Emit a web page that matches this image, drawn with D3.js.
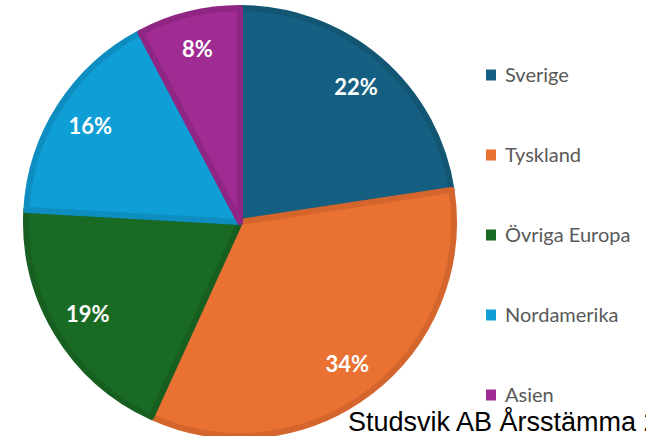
<!DOCTYPE html>
<html lang="sv">
<head>
<meta charset="UTF-8">
<title>Försäljning per region</title>
<script src="https://d3js.org/d3.v7.min.js"></script>
<style>
    body { margin: 0; background: #fff; overflow: hidden; }
    .slice-label { font-family: Lato, "Open Sans", sans-serif; font-weight: bold; fill: #fff; font-size: 22px; }
    .legend text { font-family: Lato, "Noto Sans", sans-serif; fill: #595959; font-size: 20px; }
    .footer { font-family: "Liberation Sans", Arial, sans-serif; fill: #000; font-size: 27px; }
</style>
</head>
<body>
<svg id="chart" width="646" height="436"></svg>
<script>
// data
const regions = ["Sverige", "Tyskland", "Övriga Europa", "Nordamerika", "Asien"];
const shares = [22.6, 34.2, 19.1, 16.4, 7.7];
const shareLabels = ["22%", "34%", "19%", "16%", "8%"];
const fills = ["#156082", "#e97132", "#196b24", "#0f9ed5", "#a02b93"];
const edges = ["#135674", "#d4652c", "#165f20", "#0e8dc0", "#8f2683"];

const svg = d3.select("#chart");
const cx = 240, cy = 222, radius = 217;

const data = regions.map((r, i) => ({ region: r, value: shares[i], label: shareLabels[i], i: i }));

const pie = d3.pie().value(d => d.value).sort(null);
const arc = d3.arc().innerRadius(0).outerRadius(radius - 3);
const labelArc = d3.arc().innerRadius(radius * 0.82).outerRadius(radius * 0.82);

const g = svg.append("g").attr("transform", `translate(${cx},${cy})`);

const arcs = pie(data);

g.selectAll("path")
    .data(arcs)
    .enter().append("path")
    .attr("d", arc)
    .attr("fill", d => fills[d.data.i])
    .attr("stroke", d => edges[d.data.i])
    .attr("stroke-width", 6)
    .attr("stroke-linejoin", "round");

g.selectAll(".slice-label")
    .data(arcs)
    .enter().append("text")
    .attr("class", "slice-label")
    .attr("transform", d => `translate(${labelArc.centroid(d)})`)
    .attr("text-anchor", "middle")
    .attr("dy", "0.36em")
    .text(d => d.data.label);

// legend
const legendY = d3.scalePoint().domain(regions).range([75, 395]);
const legend = svg.append("g").attr("class", "legend");
const item = legend.selectAll("g")
    .data(data)
    .enter().append("g")
    .attr("transform", d => `translate(486,${legendY(d.region)})`);
item.append("rect")
    .attr("x", 0).attr("y", -5.5)
    .attr("width", 10).attr("height", 11)
    .attr("fill", d => fills[d.i]);
item.append("text")
    .attr("x", 19)
    .attr("dy", "0.35em")
    .text(d => d.region);

svg.append("text")
    .attr("class", "footer")
    .attr("x", 348)
    .attr("y", 431)
    .text("Studsvik AB Årsstämma 2024");
</script>
</body>
</html>
